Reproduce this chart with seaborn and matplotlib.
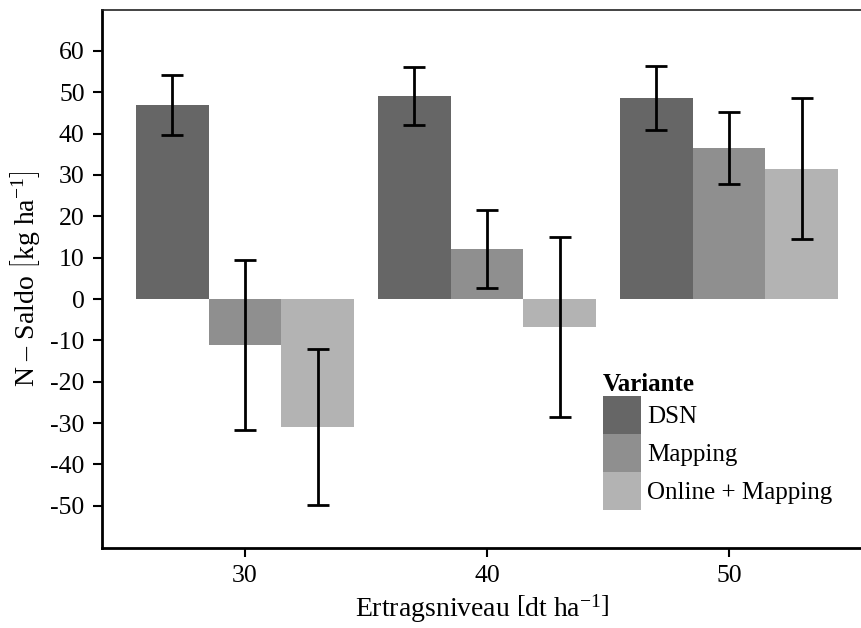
import numpy as np
import pandas as pd
import seaborn as sns
import matplotlib.pyplot as plt

# values
ertrag = [30, 40, 50]
varianten = ['DSN', 'Mapping', 'Online + Mapping']
saldo_dsn = [47.0, 49.1, 48.6]
saldo_mapping = [-11.1, 12.1, 36.5]
saldo_online = [-30.9, -6.8, 31.5]
err_dsn = [7.3, 7.0, 7.75]
err_mapping = [20.6, 9.4, 8.7]
err_online = [18.9, 21.8, 17.0]
farben = ['#666666', '#8f8f8f', '#b3b3b3']

df = pd.DataFrame({
    'Ertrag': ertrag * 3,
    'Variante': np.repeat(varianten, 3),
    'Saldo': saldo_dsn + saldo_mapping + saldo_online,
    'Err': err_dsn + err_mapping + err_online,
})

sns.set_theme(style='white')
plt.rcParams['font.family'] = ['Liberation Serif', 'DejaVu Serif']
plt.rcParams['mathtext.fontset'] = 'custom'
plt.rcParams['mathtext.rm'] = 'Liberation Serif'
plt.rcParams['mathtext.it'] = 'Liberation Serif:italic'
plt.rcParams['axes.unicode_minus'] = False
plt.rcParams['text.color'] = 'black'
plt.rcParams['axes.labelcolor'] = 'black'
fs = 18.5

fig = plt.figure(figsize=(8.62, 6.28), dpi=100)
ax = fig.add_axes([102 / 862, 1 - 548 / 628, 1 - 102 / 862, 538 / 628])

sns.barplot(data=df, x='Ertrag', y='Saldo', hue='Variante', native_scale=True,
            palette=farben, width=0.9, errorbar=None, saturation=1,
            linewidth=0, ax=ax)

# error bars at the bar centres
for p in ax.patches:
    cx = p.get_x() + p.get_width() / 2
    h = p.get_height() if p.get_y() == 0 else p.get_y()
    i = (df['Saldo'] - h).abs().idxmin()
    ax.errorbar(cx, df.loc[i, 'Saldo'], yerr=df.loc[i, 'Err'], fmt='none',
                ecolor='black', elinewidth=2, capsize=8, capthick=2, zorder=5)

ax.set_xlim(24.09, 55.5)
ax.set_ylim(-60.2, 69.9)
ax.set_xticks(ertrag)
ax.set_xticklabels([str(e) for e in ertrag])
ax.set_yticks(range(-50, 61, 10))
ax.tick_params(axis='both', direction='out', length=6.5, width=1.5,
               color='black', labelsize=fs, labelcolor='black', pad=6,
               left=True, bottom=True)

for s in ['left', 'bottom']:
    ax.spines[s].set_linewidth(2)
    ax.spines[s].set_color('black')
ax.spines['top'].set_linewidth(1.2)
ax.spines['top'].set_color('#222222')
ax.spines['right'].set_visible(False)

ax.set_xlabel(r'Ertragsniveau $\left[\mathrm{dt\ ha}^{-1}\right]$', fontsize=20, labelpad=4)
ax.set_ylabel(r'N – Saldo $\left[\mathrm{kg\ ha}^{-1}\right]$', fontsize=20, labelpad=6)

leg = ax.legend(title='Variante', loc='upper left', bbox_to_anchor=(0.659, 0.325),
                frameon=False, fontsize=18, title_fontsize=18,
                handlelength=1.52, handleheight=1.96, labelspacing=0,
                handletextpad=0.25, borderpad=0, borderaxespad=0)
leg._legend_box.align = 'left'
leg.get_title().set_fontweight('bold')

fig.savefig('out.png', dpi=100)
